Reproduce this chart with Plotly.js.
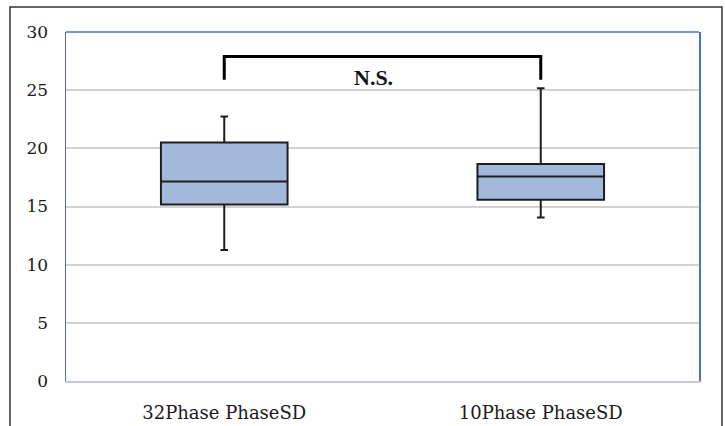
<!DOCTYPE html>
<html>
<head>
<meta charset="utf-8">
<script src="https://cdn.plot.ly/plotly-3.0.1.min.js"></script>
<style>
  html, body { margin: 0; padding: 0; background: #ffffff; }
  #chart { width: 725px; height: 426px; }
</style>
</head>
<body>
<div id="chart"></div>
<script>
// Data
const categories = ["32Phase PhaseSD", "10Phase PhaseSD"];
const lowerWhisker = [11.26, 14.06];
const q1Values = [15.17, 15.57];
const medianValues = [17.14, 17.57];
const q3Values = [20.51, 18.66];
const upperWhisker = [22.74, 25.17];

// Significance bracket (between the two groups)
const bracketX = [categories[0], categories[0], categories[1], categories[1]];
const bracketY = [25.9, 27.9, 27.9, 25.9];
const bracketLabel = "N.S.";
const bracketLabelX = 0.47;
const bracketLabelY = 26.1;

const yTicks = [0, 5, 10, 15, 20, 25, 30];

const boxTrace = {
  type: "box",
  x: categories,
  q1: q1Values,
  median: medianValues,
  q3: q3Values,
  lowerfence: lowerWhisker,
  upperfence: upperWhisker,
  boxpoints: false,
  width: 0.4,
  whiskerwidth: 0.06,
  fillcolor: "#a3b9dc",
  line: { color: "#1e1e1e", width: 2 },
  showlegend: false,
  hoverinfo: "skip"
};

const bracketTrace = {
  type: "scatter",
  mode: "lines",
  x: bracketX,
  y: bracketY,
  line: { color: "#000000", width: 3 },
  showlegend: false,
  hoverinfo: "skip"
};

const layout = {
  width: 725,
  height: 426,
  margin: { l: 66, r: 26, t: 32, b: 45, pad: 0 },
  paper_bgcolor: "#ffffff",
  plot_bgcolor: "#ffffff",
  showlegend: false,
  font: { family: "DejaVu Serif, serif", color: "#1a1a1a", size: 17 },
  xaxis: {
    type: "category",
    categoryorder: "array",
    categoryarray: categories,
    range: [-0.5, 1.5],
    showgrid: false,
    zeroline: false,
    showline: true,
    mirror: false,
    linecolor: "#c8c8d2",
    linewidth: 2,
    ticks: "",
    tickfont: { family: "DejaVu Serif, serif", size: 18, color: "#1a1a1a" },
    ticklabelstandoff: 14,
    fixedrange: true
  },
  yaxis: {
    range: [0, 30],
    tickvals: yTicks,
    ticktext: yTicks.map(String),
    showgrid: true,
    gridcolor: "#d2d2d6",
    gridwidth: 2,
    zeroline: false,
    showline: true,
    mirror: true,
    linecolor: "#4a72c4",
    linewidth: 1.5,
    ticks: "",
    tickfont: { family: "DejaVu Serif, serif", size: 17, color: "#1a1a1a" },
    ticklabelstandoff: 13,
    fixedrange: true
  },
  shapes: [
    {
      type: "line", xref: "paper", yref: "paper",
      x0: 0, x1: 1, y0: 1, y1: 1,
      line: { color: "#4a72c4", width: 1.5 }
    },
    {
      type: "rect", xref: "paper", yref: "paper",
      x0: -0.0885, x1: 1.0363, y0: -0.15, y1: 1.0716,
      line: { color: "#333333", width: 1.5 },
      fillcolor: "rgba(0,0,0,0)"
    }
  ],
  annotations: [
    {
      x: bracketLabelX, y: bracketLabelY, xref: "x", yref: "y",
      text: bracketLabel, showarrow: false,
      font: { family: "Liberation Serif, serif", size: 22, color: "#111111", weight: "bold" },
      xanchor: "center", yanchor: "middle"
    }
  ]
};

Plotly.newPlot("chart", [boxTrace, bracketTrace], layout, { displayModeBar: false, staticPlot: true });
</script>
</body>
</html>
